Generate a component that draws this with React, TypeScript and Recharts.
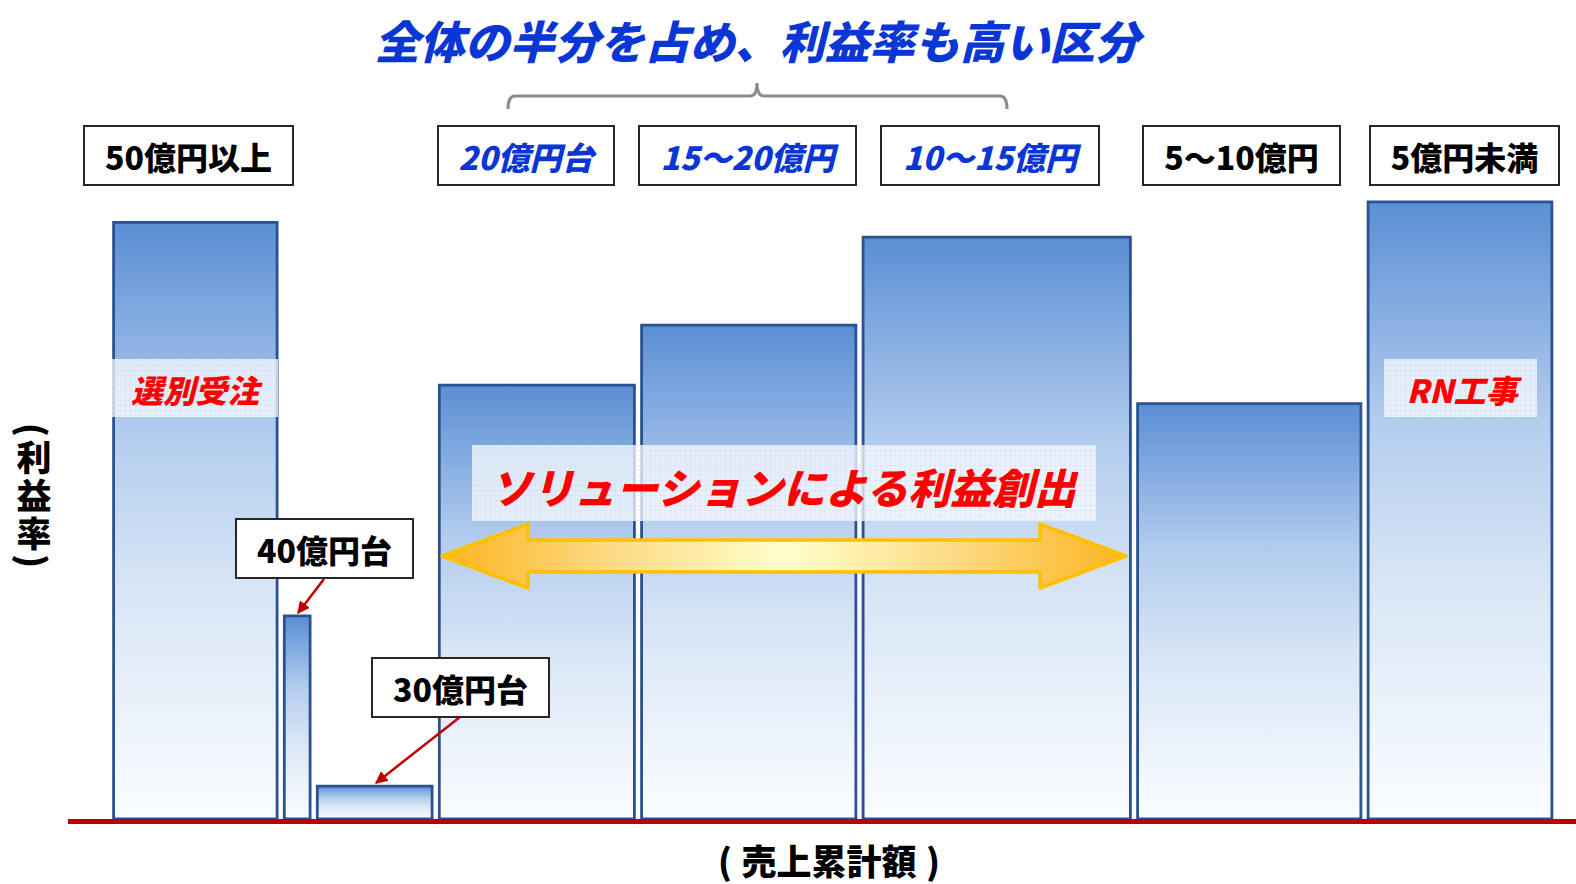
import { ComposedChart, XAxis, YAxis, ReferenceArea, Line } from 'recharts';

// 売上規模別セグメント（売上累計額 × 利益率）
const segments = ['50億円以上', '40億円台', '30億円台', '20億円台', '15～20億円', '10～15億円', '5～10億円', '5億円未満'];
const sales = [170.7, 33, 122, 202.3, 221.5, 274.5, 230.5, 191];
const profitRate = [96.4, 32.8, 5.3, 70.1, 79.8, 94.0, 67.1, 99.7];
const salesStart = 42;
const highlighted = ['20億円台', '15～20億円', '10～15億円'];

const title = '全体の半分を占め、利益率も高い区分';
const solutionText = 'ソリューションによる利益創出';
const xLabel = '売上累計額';
const yLabel = '(利益率)';

// cumulative start of each segment
const starts: number[] = [];
sales.reduce((acc, w) => {
  starts.push(acc);
  return acc + w;
}, salesStart);

const data = segments.map((name, i) => ({
  name,
  x: starts[i] + sales[i] / 2,
  rate: profitRate[i],
}));

const W = 1576;
const H = 884;
const GAP = 3.6;
const FONT = '"Noto Sans CJK JP", "Noto Sans", sans-serif';
const BLUE = '#0a36d6';
const RED = '#ff0000';

// label boxes (pixel layout)
const labelBoxes = [
  { x: 84, y: 126, w: 209, h: 59 },
  { x: 236, y: 519, w: 177, h: 59 },
  { x: 372, y: 658, w: 177, h: 59 },
  { x: 438, y: 126, w: 176, h: 59 },
  { x: 639, y: 126, w: 217, h: 59 },
  { x: 881, y: 126, w: 218, h: 59 },
  { x: 1143, y: 126, w: 197, h: 59 },
  { x: 1370, y: 126, w: 189, h: 59 },
];

function Overlay() {
  const t = { fontFamily: FONT, fontWeight: 900, textAnchor: 'middle' as const, dominantBaseline: 'central' as const };
  return (
    <svg width={W} height={H} style={{ position: 'absolute', left: 0, top: 0, pointerEvents: 'none' }}>
      <defs>
        <pattern id="mesh" width="5" height="5" patternUnits="userSpaceOnUse">
          <rect width="5" height="5" fill="#ffffff" fillOpacity={0.72} />
          <path d="M0 0H5M0 0V5" stroke="#d4e0f2" strokeWidth={1} />
        </pattern>
        <linearGradient id="arrowGrad" x1="0" y1="0" x2="1" y2="0">
          <stop offset="0%" stopColor="#fbb41e" />
          <stop offset="22%" stopColor="#fdd67a" />
          <stop offset="50%" stopColor="#ffffcc" />
          <stop offset="78%" stopColor="#fdd67a" />
          <stop offset="100%" stopColor="#fbb41e" />
        </linearGradient>
        <marker id="redHead" viewBox="0 0 10 10" refX="9" refY="5" markerWidth="5" markerHeight="5" orient="auto">
          <path d="M0 0L10 5L0 10Z" fill="#c00000" />
        </marker>
      </defs>

      {/* baseline */}
      <line x1={68} x2={W} y1={821.5} y2={821.5} stroke="#c00000" strokeWidth={5} />

      {/* title + bracket */}
      <text x={757} y={39} {...t} fontSize={45} fontStyle="italic" fill={BLUE}>{title}</text>
      <path d="M508 109 Q508 96 515 96 L750 96 Q757 96 757 83 Q757 96 764 96 L1000 96 Q1007 96 1007 109"
        fill="none" stroke="#8c8c8c" strokeWidth={3} />

      {/* segment labels */}
      {segments.map((s, i) => {
        const b = labelBoxes[i];
        const hl = highlighted.includes(s);
        return (
          <g key={s}>
            <rect x={b.x} y={b.y} width={b.w} height={b.h} fill="#fff" stroke="#262626" strokeWidth={2} />
            <text x={b.x + b.w / 2} y={b.y + b.h / 2} {...t} fontSize={32}
              fontStyle={hl ? 'italic' : 'normal'} fill={hl ? BLUE : '#000'}>{s}</text>
          </g>
        );
      })}

      {/* callouts */}
      <line x1={324} y1={579} x2={298} y2={613} stroke="#c00000" strokeWidth={2.5} markerEnd="url(#redHead)" />
      <line x1={460} y1={717} x2={376} y2={783} stroke="#c00000" strokeWidth={2.5} markerEnd="url(#redHead)" />

      {/* red notes */}
      <rect x={112} y={359} width={166} height={58} fill="url(#mesh)" />
      <text x={195} y={389} {...t} fontSize={32} fontStyle="italic" fill={RED}>選別受注</text>
      <rect x={1384} y={359} width={153} height={58} fill="url(#mesh)" />
      <text x={1462} y={389} {...t} fontSize={32} fontStyle="italic" fill={RED}>RN工事</text>

      <rect x={472} y={445} width={624} height={76} fill="url(#mesh)" />
      <text x={783} y={485} {...t} fontSize={42} fontStyle="italic" fill={RED}>{solutionText}</text>

      {/* double arrow */}
      <path d="M442 556 L528 524 L528 540 L1040 540 L1040 524 L1126 556 L1040 588 L1040 572 L528 572 L528 588 Z"
        fill="url(#arrowGrad)" stroke="#ffc000" strokeWidth={3.5} strokeLinejoin="round" />

      {/* y axis title (vertical) */}
      <text x={34} y={497} {...t} fontSize={35} letterSpacing={3} fill="#000"
        style={{ writingMode: 'vertical-rl' }}>{yLabel}</text>

      {/* x axis title */}
      <text x={725} y={859} {...t} fontSize={35} fill="#000">(</text>
      <text x={829} y={859} {...t} fontSize={35} fill="#000">{xLabel}</text>
      <text x={933} y={859} {...t} fontSize={35} fill="#000">)</text>
    </svg>
  );
}

export default function App() {
  return (
    <div style={{ position: 'relative', width: W, height: H, background: '#fff' }}>
      <style>{'body{margin:0}'}</style>
      <ComposedChart width={W} height={H} data={data} margin={{ top: 200, right: 0, bottom: 65, left: 68 }}>
        <defs>
          <linearGradient id="barGrad" x1="0" y1="0" x2="0" y2="1">
            <stop offset="0%" stopColor="#5a8ed4" />
            <stop offset="35%" stopColor="#b2ccee" />
            <stop offset="62%" stopColor="#d9e6f6" />
            <stop offset="100%" stopColor="#fafdff" />
          </linearGradient>
        </defs>
        <XAxis dataKey="x" type="number" domain={[0, 1508]} hide />
        <YAxis type="number" domain={[0, 100]} hide />
        {segments.map((s, i) => (
          <ReferenceArea
            key={s}
            x1={starts[i] + GAP}
            x2={starts[i] + sales[i] - GAP}
            y1={0}
            y2={profitRate[i]}
            fill="url(#barGrad)"
            fillOpacity={1}
            stroke="#2a5290"
            strokeWidth={2.8}
            ifOverflow="visible"
          />
        ))}
        <Line dataKey="rate" stroke="none" dot={false} activeDot={false} isAnimationActive={false} />
      </ComposedChart>
      <Overlay />
    </div>
  );
}
